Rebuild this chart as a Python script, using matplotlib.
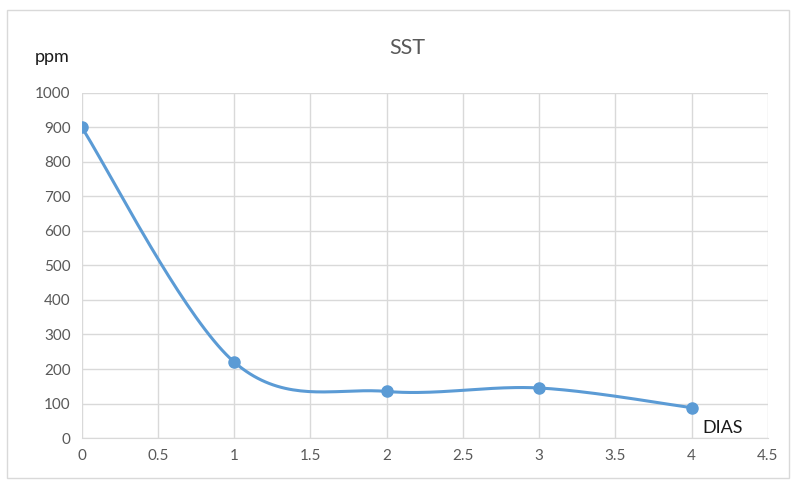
import numpy as np
import matplotlib.pyplot as plt
from matplotlib.patches import Rectangle

# data
dias = [0, 1, 2, 3, 4]
ppm = [900, 220, 135, 145, 88]
x_ticks = [0, 0.5, 1, 1.5, 2, 2.5, 3, 3.5, 4, 4.5]
y_ticks = [0, 100, 200, 300, 400, 500, 600, 700, 800, 900, 1000]

line_color = '#5B9BD5'
grid_color = '#D9D9D9'
tick_color = '#595959'

plt.rcParams['font.family'] = ['Lato', 'DejaVu Sans']


def smooth_curve(xs, ys, n=40):
    """Excel-like smoothed line (Catmull-Rom as cubic Bezier)."""
    px = np.array(xs, dtype=float)
    py = np.array(ys, dtype=float)
    out_x, out_y = [], []
    for i in range(len(px) - 1):
        i0 = max(i - 1, 0)
        i3 = min(i + 2, len(px) - 1)
        p0 = np.array([px[i], py[i]])
        p3 = np.array([px[i + 1], py[i + 1]])
        c1 = p0 + (np.array([px[i + 1], py[i + 1]]) - np.array([px[i0], py[i0]])) / 6
        c2 = p3 - (np.array([px[i3], py[i3]]) - np.array([px[i], py[i]])) / 6
        t = np.linspace(0, 1, n)[:, None]
        pts = ((1 - t) ** 3) * p0 + 3 * ((1 - t) ** 2) * t * c1 + 3 * (1 - t) * t ** 2 * c2 + t ** 3 * p3
        out_x.extend(pts[:, 0])
        out_y.extend(pts[:, 1])
    return out_x, out_y


fig = plt.figure(figsize=(7.94, 4.84), dpi=100)
fig.patches.append(Rectangle((0.009, 0.012), 0.985, 0.967, transform=fig.transFigure,
                             fill=False, edgecolor='#D9D9D9', linewidth=1))
ax = fig.add_axes([0.103, 0.095, 0.864, 0.713])

sx, sy = smooth_curve(dias, ppm)
ax.plot(sx, sy, color=line_color, linewidth=2.2, zorder=3)
ax.plot(dias, ppm, 'o', color=line_color, markersize=8, zorder=4)

ax.set_xlim(0, 4.5)
ax.set_ylim(0, 1000)
ax.set_xticks(x_ticks)
ax.set_xticklabels([f'{v:g}' for v in x_ticks])
ax.set_yticks(y_ticks)
ax.grid(True, color=grid_color, linewidth=1)
ax.set_axisbelow(True)
for side in ['top', 'right', 'left']:
    ax.spines[side].set_visible(False)
ax.spines['bottom'].set_color(grid_color)
ax.tick_params(length=0, labelsize=11, colors=tick_color, pad=8)

fig.text(0.513, 0.9, 'SST', ha='center', va='center', fontsize=15.5, color='#595959')
fig.text(0.066, 0.882, 'ppm', ha='center', va='center', fontsize=13, color='#1a1a1a')
ax.text(4.07, 30, 'DIAS', ha='left', va='center', fontsize=13, color='#1a1a1a')

fig.savefig('out.png', dpi=100)
